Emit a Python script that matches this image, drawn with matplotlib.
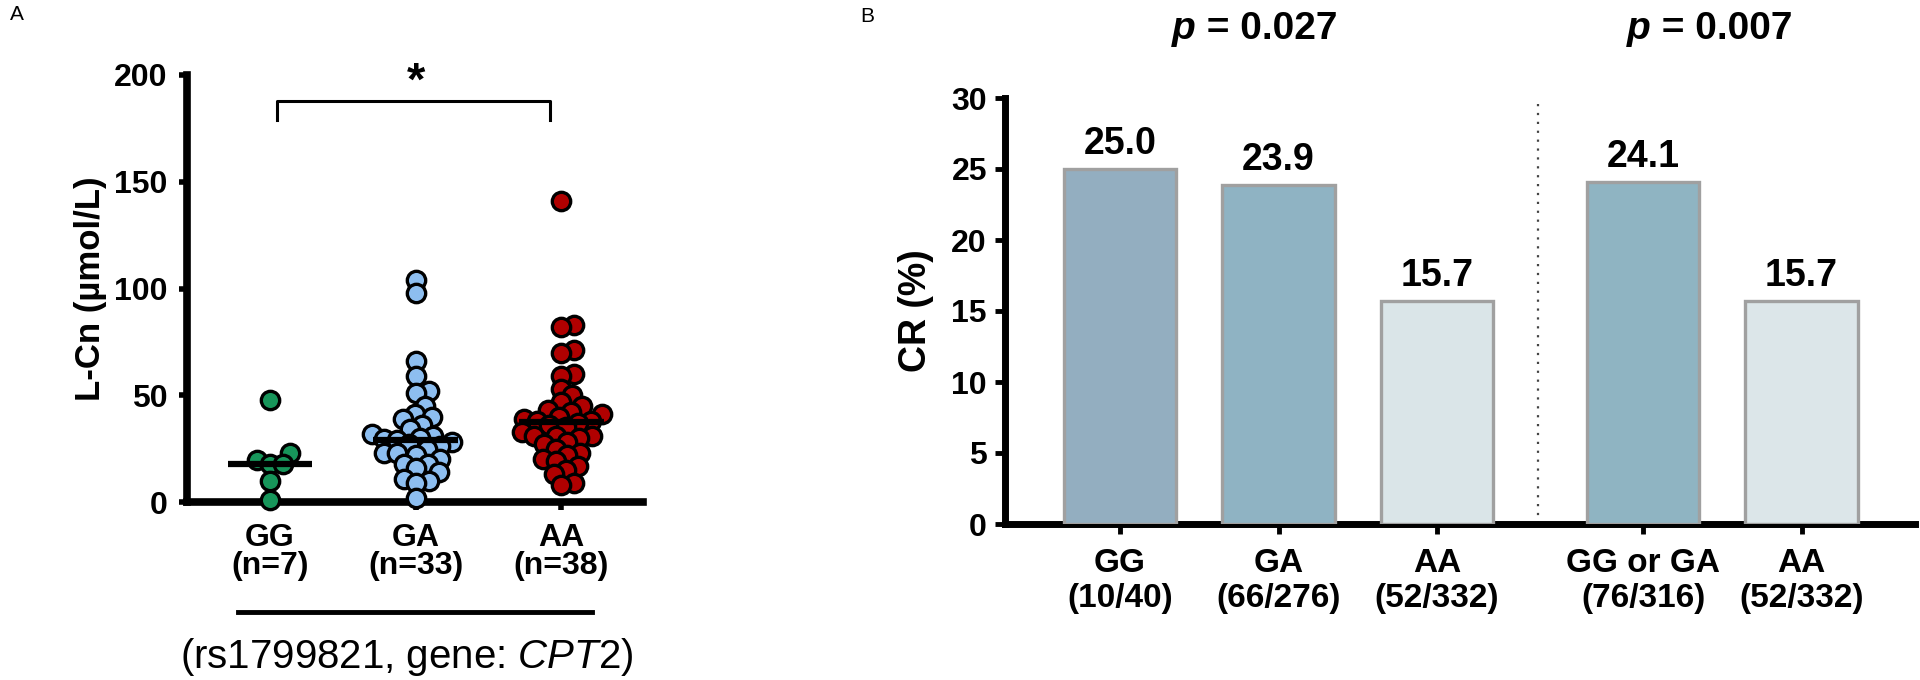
import matplotlib
matplotlib.use("Agg")
import matplotlib.pyplot as plt
import numpy as np
from matplotlib.lines import Line2D

plt.rcParams['font.family'] = ['Liberation Sans', 'DejaVu Sans']
plt.rcParams['mathtext.fontset'] = 'custom'
plt.rcParams['mathtext.rm'] = 'Liberation Sans'
plt.rcParams['mathtext.it'] = 'Liberation Sans:italic'

# Panel A: L-Cn by genotype
groups = ["GG", "GA", "AA"]
group_n = ["(n=7)", "(n=33)", "(n=38)"]
gg_vals = [48, 23, 19.5, 18, 18, 10, 1]
ga_vals = [104, 98, 66, 59, 52, 51, 45, 41, 40, 39, 36, 34, 32, 31, 30, 29.5, 29,
           28, 27, 26, 25, 23, 23, 22, 20, 18, 18, 16, 14, 11, 10, 9, 2]
aa_vals = [141, 83, 82, 71, 70, 60, 59, 53, 50, 47, 45, 43, 42, 41, 40, 39, 38, 38,
           37, 36, 35, 33, 31, 31, 31, 30, 28, 27, 25, 23, 22, 20, 19, 17, 15, 13, 9, 8]
medians = [18, 29, 37.5]
a_colors = ["#17955A", "#8DBEF0", "#B00000"]

# Panel B: CR rate by genotype
b_labels = ["GG\n(10/40)", "GA\n(66/276)", "AA\n(52/332)", "GG or GA\n(76/316)", "AA\n(52/332)"]
cr_values = [25.0, 23.9, 15.7, 24.1, 15.7]
b_colors = ["#93AEC0", "#8FB3C3", "#DAE5E8", "#8FB4C2", "#DCE6E9"]
p_texts = [" = 0.027", " = 0.007"]


def swarm_x(ax, xc, vals, dmin):
    # simple beeswarm in pixel space
    vals = np.asarray(vals, dtype=float)
    pts = ax.transData.transform(np.column_stack([np.full(len(vals), xc), vals]))
    placed = []
    xs = np.zeros(len(vals))
    for i in np.argsort(vals):
        y = pts[i, 1]
        found = None
        for step in range(0, 300):
            for sgn in ([0] if step == 0 else [1, -1]):
                x = pts[i, 0] + sgn * step
                if all((x - px) ** 2 + (y - py) ** 2 >= dmin ** 2 for px, py in placed):
                    found = x
                    break
            if found is not None:
                break
        placed.append((found, y))
        xs[i] = found
    back = ax.transData.inverted().transform(np.column_stack([xs, pts[:, 1]]))
    return back[:, 0]


fig = plt.figure(figsize=(19.2, 6.8), dpi=100)

# ---------------- Panel A ----------------
axA = fig.add_axes([187 / 1920, 1 - 502 / 680, (643 - 187) / 1920, (502 - 75) / 680])
axA.set_xlim(0.43, 3.56)
axA.set_ylim(0, 200)
for s in ["top", "right"]:
    axA.spines[s].set_visible(False)
for s in ["left", "bottom"]:
    axA.spines[s].set_linewidth(5.5)

for i, vals in enumerate([gg_vals, ga_vals, aa_vals]):
    xc = i + 1
    xs = swarm_x(axA, xc, vals, 12.5)
    axA.scatter(xs, vals, s=175, color=a_colors[i], edgecolor="black", linewidth=2.4,
                zorder=5, clip_on=False)
    axA.hlines(medians[i], xc - 0.29, xc + 0.29, color="black", linewidth=4.5, zorder=6)

axA.set_yticks([0, 50, 100, 150, 200])
axA.set_xticks([1, 2, 3])
axA.set_xticklabels([g + "\n" + n for g, n in zip(groups, group_n)], linespacing=0.9)
axA.tick_params(axis="y", length=6, width=4, pad=8, labelsize=23)
axA.tick_params(axis="x", length=6, width=4, pad=9, labelsize=23)
for lab in axA.get_xticklabels() + axA.get_yticklabels():
    lab.set_fontweight("bold")
axA.set_ylabel("L-Cn (µmol/L)", fontsize=25, fontweight="bold")
axA.yaxis.set_label_coords(-0.175, 0.5)

# significance bracket
axA.plot([1.05, 1.05, 2.92, 2.92], [179, 188, 188, 179], color="black", linewidth=2.2,
         clip_on=False)
axA.text(2.0, 186, "*", ha="center", va="bottom", fontsize=34, fontweight="bold")

fig.add_artist(Line2D([238 / 1920, 592 / 1920], [1 - 612 / 680, 1 - 612 / 680],
                      color="black", linewidth=3.5))
fig.text(407 / 1920, 1 - 657 / 680, "(rs1799821, gene: $\\mathit{CPT2}$)",
         ha="center", va="center", fontsize=29)
fig.text(10 / 1920, 1 - 14 / 680, "A", ha="left", va="center", fontsize=15)

# ---------------- Panel B ----------------
axB = fig.add_axes([1005 / 1920, 1 - 524 / 680, (1915 - 1005) / 1920, (524 - 98) / 680])
pos = [0, 1, 2, 3.3, 4.3]
axB.set_xlim(-0.726, 5.016)
axB.set_ylim(0, 30)
for s in ["top", "right"]:
    axB.spines[s].set_visible(False)
for s in ["left", "bottom"]:
    axB.spines[s].set_linewidth(5)

axB.bar(pos, cr_values, width=0.71, color=b_colors, edgecolor="#A0A0A0", linewidth=2.4,
        zorder=3)
for x, v in zip(pos, cr_values):
    axB.annotate(f"{v:.1f}", (x, v), xytext=(0, 5), textcoords="offset points",
                 ha="center", va="bottom", fontsize=27, fontweight="bold")

axB.plot([2.64, 2.64], [0, 30], color="#444444", linewidth=1.6, linestyle=(0, (1, 3)))

axB.set_yticks([0, 5, 10, 15, 20, 25, 30])
axB.set_xticks(pos)
axB.set_xticklabels(b_labels, linespacing=1.2)
axB.tick_params(axis="y", length=7, width=3.5, pad=6, labelsize=23)
axB.tick_params(axis="x", length=7, width=3.5, pad=10, labelsize=24)
for lab in axB.get_xticklabels() + axB.get_yticklabels():
    lab.set_fontweight("bold")
axB.set_ylabel("CR (%)", fontsize=27, fontweight="bold")
axB.yaxis.set_label_coords(-0.078, 0.5)

# p-values above the two comparisons
for xl, txt in zip([1172, 1627], p_texts):
    t1 = fig.text(xl / 1920, 1 - 47 / 680, "p", ha="left", va="bottom", fontsize=28,
                  fontweight="bold", fontstyle="italic")
    axB.annotate(txt, xy=(1, 0), xycoords=t1, ha="left", va="bottom", fontsize=28,
                 fontweight="bold", annotation_clip=False)

fig.text(860 / 1920, 1 - 17 / 680, "B", ha="left", va="center", fontsize=15)

fig.savefig("out.png", dpi=100)
